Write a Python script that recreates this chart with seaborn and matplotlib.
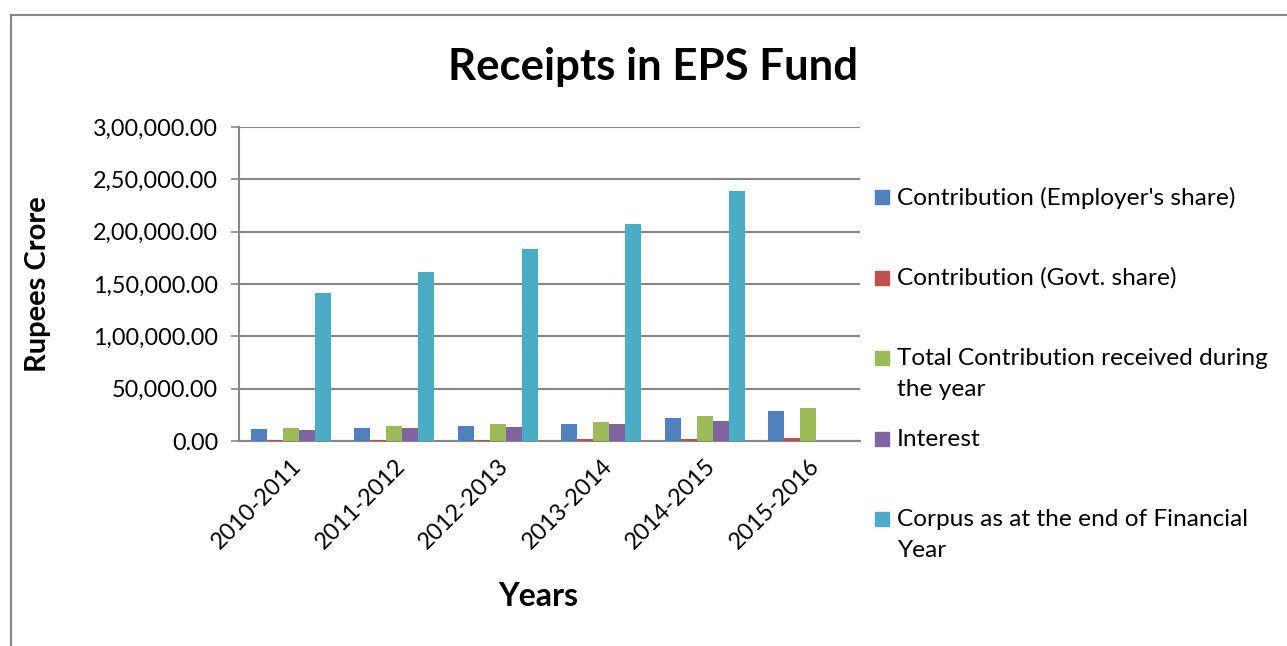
import matplotlib
matplotlib.use('Agg')
import matplotlib.pyplot as plt
import matplotlib.patches as mpatches
from matplotlib.ticker import FuncFormatter
import pandas as pd
import seaborn as sns

# 数据（从图中估读，单位：Rupees Crore）
years = ['2010-2011', '2011-2012', '2012-2013', '2013-2014', '2014-2015', '2015-2016']
employer_share = [11100, 12700, 14600, 16500, 21600, 28700]
govt_share = [700, 800, 900, 1800, 2200, 3300]
total_contribution = [12700, 14600, 15900, 18400, 24200, 31800]
interest = [10500, 12700, 13700, 16500, 19100, 0]
corpus = [141400, 161400, 183400, 207600, 238500, 0]

series_names = ["Contribution (Employer's share)",
                "Contribution (Govt. share)",
                "Total Contribution received during\nthe year",
                "Interest",
                "Corpus as at the end of Financial\nYear"]
colors = ['#4F81BD', '#C0504D', '#9BBB59', '#8064A2', '#4BACC6']

df = pd.DataFrame({'Year': years,
                   series_names[0]: employer_share,
                   series_names[1]: govt_share,
                   series_names[2]: total_contribution,
                   series_names[3]: interest,
                   series_names[4]: corpus})
df = df.melt(id_vars='Year', var_name='Series', value_name='Value')

sns.set_theme(style='white')
plt.rcParams['font.family'] = ['Lato', 'DejaVu Sans']
plt.rcParams['text.color'] = 'black'
plt.rcParams['axes.labelcolor'] = 'black'
plt.rcParams['xtick.color'] = 'black'
plt.rcParams['ytick.color'] = 'black'

fig = plt.figure(figsize=(12.87, 6.46), dpi=100)
ax = fig.add_axes([239 / 1287, 205 / 646, 621 / 1287, 314 / 646])

sns.barplot(data=df, x='Year', y='Value', hue='Series', palette=colors,
            saturation=1, width=0.77, linewidth=0, legend=False, ax=ax, zorder=3)


def indian(v, pos=None):
    s = str(int(round(v)))
    if len(s) > 3:
        head, tail = s[:-3], s[-3:]
        parts = []
        while len(head) > 2:
            parts.insert(0, head[-2:])
            head = head[:-2]
        if head:
            parts.insert(0, head)
        s = ','.join(parts) + ',' + tail
    return s + '.00'


ax.set_ylim(0, 300000)
ax.set_yticks(range(0, 300001, 50000))
ax.yaxis.set_major_formatter(FuncFormatter(indian))
ax.grid(axis='y', color='#868686', linewidth=1.5, zorder=0)
ax.set_axisbelow(True)
for s in ['top', 'right']:
    ax.spines[s].set_visible(False)
for s in ['left', 'bottom']:
    ax.spines[s].set_color('#868686')
    ax.spines[s].set_linewidth(1.5)
ax.tick_params(axis='y', left=True, length=6, width=1.2, color='#868686',
               labelcolor='black', labelsize=16.8, pad=9)
ax.tick_params(axis='x', bottom=False, labelcolor='black', labelsize=16.8, pad=4)
plt.setp(ax.get_xticklabels(), rotation=45, ha='right', rotation_mode='anchor')

ax.set_xlabel('Years', fontsize=23, fontweight='bold', color='black')
ax.xaxis.set_label_coords((538 - 239) / 621, -(582 - 441) / 314)
ax.set_ylabel('Rupees Crore', fontsize=21, fontweight='bold', color='black')
ax.yaxis.set_label_coords(-(239 - 51) / 621, (441 - 284) / 314)

fig.text(653 / 1287, 1 - 67 / 646, 'Receipts in EPS Fund', fontsize=31.5,
         fontweight='bold', ha='center', va='center', color='black')

# 图例：按Excel样式逐项放置
for i, (name, c) in enumerate(zip(series_names, colors)):
    yc = 197 + 80.5 * i
    fig.patches.append(mpatches.Rectangle((875 / 1287, 1 - (yc + 7) / 646),
                                          14 / 1287, 14 / 646, color=c,
                                          transform=fig.transFigure))
    fig.text(897 / 1287, 1 - (yc - 10) / 646, name, fontsize=17.6,
             ha='left', va='top', linespacing=1.6, color='black')

# 外框
fig.patches.append(mpatches.Rectangle((11 / 1287, -0.1), 1.2, 1 - 15 / 646 + 0.1,
                                      fill=False, edgecolor='#868686', linewidth=1.5,
                                      transform=fig.transFigure))

fig.savefig('out.png', dpi=100)
